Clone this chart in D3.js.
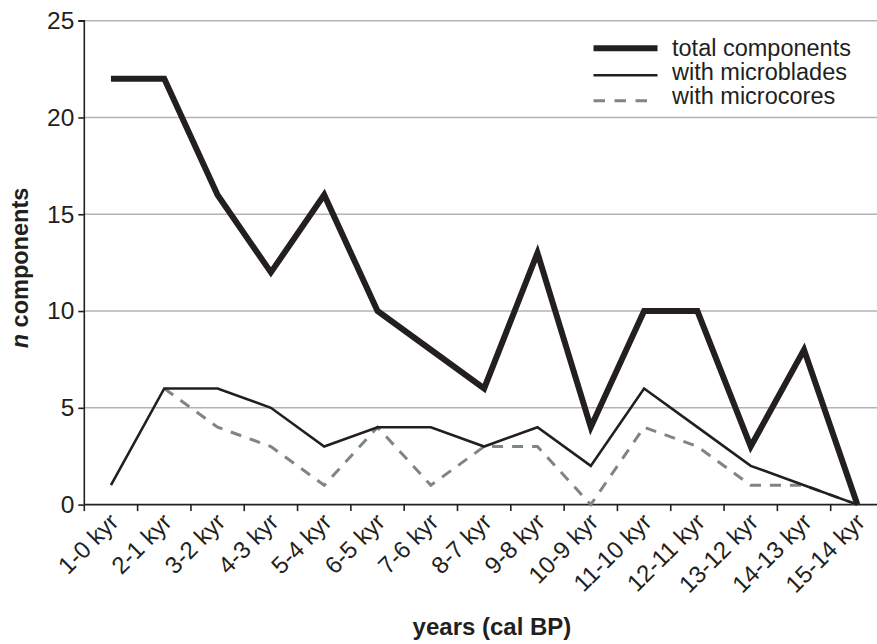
<!DOCTYPE html>
<html>
<head>
<meta charset="utf-8">
<script src="https://cdn.jsdelivr.net/npm/d3@7"></script>
<style>
  html, body { margin: 0; padding: 0; background: #fff; }
  svg { display: block; font-family: "Liberation Sans", Arial, sans-serif; }
</style>
</head>
<body>
<svg id="chart" width="877" height="644"></svg>
<script>
const categories = ["1-0 kyr","2-1 kyr","3-2 kyr","4-3 kyr","5-4 kyr","6-5 kyr","7-6 kyr","8-7 kyr","9-8 kyr","10-9 kyr","11-10 kyr","12-11 kyr","13-12 kyr","14-13 kyr","15-14 kyr"];
const totalComponents = [22,22,16,12,16,10,8,6,13,4,10,10,3,8,0];
const withMicroblades = [1,6,6,5,3,4,4,3,4,2,6,4,2,1,0];
const withMicrocores = [null,6,4,3,1,4,1,3,3,0,4,3,1,1,0];
const yTicks = [0,5,10,15,20,25];
const seriesNames = ["total components","with microblades","with microcores"];

const svg = d3.select("#chart");
const pLeft = 84.3, pRight = 884, pTop = 20.7, pBottom = 504.6;

const x = d3.scaleBand().domain(categories).range([pLeft, pRight]).padding(0);
const y = d3.scaleLinear().domain([0, 25]).range([pBottom, pTop]);

// gridlines
svg.append("g").selectAll("line").data(yTicks.filter(d => d > 0)).join("line")
  .attr("x1", pLeft).attr("x2", pRight)
  .attr("y1", d => y(d)).attr("y2", d => y(d))
  .attr("stroke", "#b3b3b5").attr("stroke-width", 1.5);

// y axis
const yAxis = svg.append("g").attr("transform", `translate(${pLeft},0)`)
  .call(d3.axisLeft(y).tickValues(yTicks).tickSize(6).tickPadding(4).tickFormat(d3.format("d")));
yAxis.select(".domain").attr("stroke", "#231f20").attr("stroke-width", 1.6).attr("d", `M-6,${y(25)}H0V${pBottom}`);
yAxis.selectAll(".tick line").attr("stroke", "#231f20").attr("stroke-width", 1.6);
yAxis.selectAll(".tick text").attr("font-size", 24.5).attr("fill", "#231f20")
  .attr("font-family", "Liberation Sans, Arial, sans-serif");

// x axis
const xAxis = svg.append("g").attr("transform", `translate(0,${pBottom})`)
  .call(d3.axisBottom(x).tickSize(0).tickFormat(""));
xAxis.select(".domain").attr("stroke", "#231f20").attr("stroke-width", 1.6).attr("d", `M${pLeft},0H${pRight}`);
// tick marks at category boundaries
const bounds = categories.map(c => x(c));
svg.append("g").selectAll("line").data(bounds).join("line")
  .attr("x1", d => d).attr("x2", d => d)
  .attr("y1", pBottom).attr("y2", pBottom + 6.5)
  .attr("stroke", "#231f20").attr("stroke-width", 1.6);
// rotated labels
svg.append("g").selectAll("text").data(categories).join("text")
  .attr("transform", d => `translate(${x(d) + x.bandwidth()/2 + 9},${pBottom + 19}) rotate(-45)`)
  .attr("text-anchor", "end")
  .attr("font-size", 24)
  .attr("fill", "#231f20")
  .text(d => d);

// lines
const line = d3.line()
  .defined(d => d.v !== null)
  .x(d => x(d.c) + x.bandwidth()/2)
  .y(d => y(d.v));
const toPts = arr => categories.map((c, i) => ({c, v: arr[i]}));

svg.append("path").datum(toPts(withMicrocores))
  .attr("d", line).attr("fill", "none")
  .attr("stroke", "#7d8588").attr("stroke-width", 3).attr("stroke-dasharray", "11,9");
svg.append("path").datum(toPts(withMicroblades))
  .attr("d", line).attr("fill", "none")
  .attr("stroke", "#231f20").attr("stroke-width", 2.6).attr("stroke-linejoin", "miter");
svg.append("path").datum(toPts(totalComponents))
  .attr("d", line).attr("fill", "none")
  .attr("stroke", "#231f20").attr("stroke-width", 6).attr("stroke-linejoin", "miter").attr("stroke-miterlimit", 10);

// legend
const legendStyles = [
  {w: 6, c: "#231f20", dash: null},
  {w: 2.6, c: "#231f20", dash: null},
  {w: 3, c: "#7d8588", dash: "11.5,9.5"}
];
const leg = svg.append("g");
const legY = [48.3, 75.2, 100.7];
seriesNames.forEach((name, i) => {
  const s = legendStyles[i];
  leg.append("line")
    .attr("x1", 593.5).attr("x2", i === 2 ? 648 : 657.5)
    .attr("y1", legY[i]).attr("y2", legY[i])
    .attr("stroke", s.c).attr("stroke-width", s.w)
    .attr("stroke-dasharray", s.dash);
  leg.append("text")
    .attr("x", 672).attr("y", [55.5, 79.5, 103.5][i])
    .attr("font-size", 23.5).attr("fill", "#231f20")
    .text(name);
});

// axis titles
svg.append("text")
  .attr("x", 492).attr("y", 635)
  .attr("text-anchor", "middle").attr("font-size", 24).attr("font-weight", "bold")
  .attr("fill", "#231f20")
  .text("years (cal BP)");

const yt = svg.append("text")
  .attr("transform", `translate(28,268) rotate(-90)`)
  .attr("text-anchor", "middle").attr("font-size", 23.5).attr("font-weight", "bold")
  .attr("fill", "#231f20");
yt.append("tspan").attr("font-style", "italic").text("n");
yt.append("tspan").text(" components");
</script>
</body>
</html>
